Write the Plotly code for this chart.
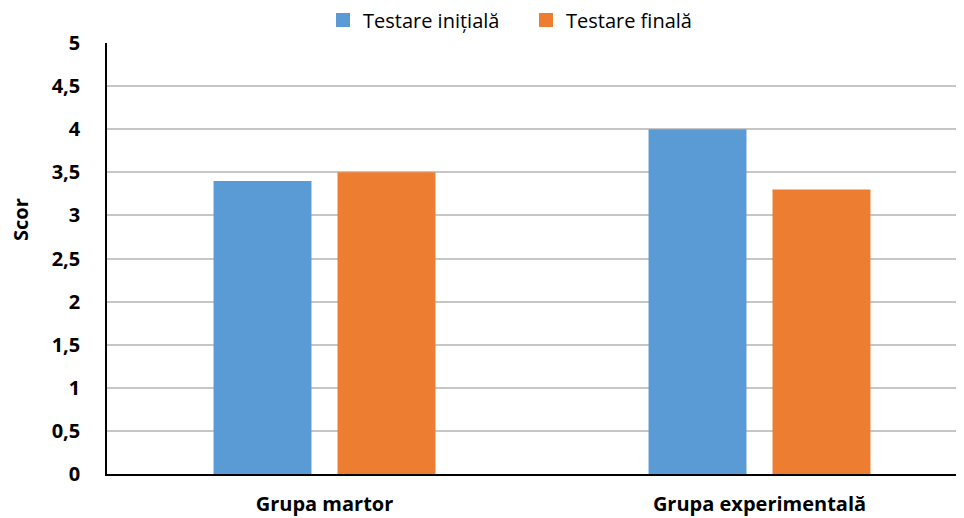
import plotly.graph_objects as go

categories = ["Grupa martor", "Grupa experimentală"]
initial = [3.4, 4.0]
final = [3.5, 3.3]
series_names = ["Testare inițială", "Testare finală"]
series_colors = ["#5B9BD5", "#ED7D31"]
y_ticks = [0, 0.5, 1, 1.5, 2, 2.5, 3, 3.5, 4, 4.5, 5]
y_tick_labels = ["0", "0,5", "1", "1,5", "2", "2,5", "3", "3,5", "4", "4,5", "5"]
y_title = "Scor"

FONT = "Open Sans"
W, H = 956, 510
L, T, B = 99, 35, 44
PW = W - L
PH = H - T - B

fig = go.Figure()
for vals, name, col in zip([initial, final], series_names, series_colors):
    fig.add_trace(go.Bar(x=categories, y=vals, name=name, showlegend=False,
                         marker=dict(color=col, line=dict(width=0))))
# legend entries with larger square swatches, each in its own legend box
for name, col, lg in zip(series_names, series_colors, ["legend", "legend2"]):
    fig.add_trace(go.Scatter(x=[None], y=[None], mode="markers", name=name, legend=lg,
                             marker=dict(symbol="square", size=14, color=col)))

fig.add_annotation(text=y_title, textangle=-90, showarrow=False,
                   xref="paper", yref="paper",
                   x=(13 - L) / PW, y=1 - (212 - T) / PH,
                   xanchor="center", yanchor="middle",
                   font=dict(size=20, family=FONT, weight="bold", color="black"))

legend_common = dict(orientation="h", xanchor="left", yanchor="middle",
                     y=1 + (T - 12) / PH, font=dict(size=20, family=FONT),
                     itemsizing="trace", itemwidth=30, bgcolor="rgba(0,0,0,0)")

fig.update_layout(
    width=W, height=H,
    margin=dict(l=L, r=0, t=T, b=B, autoexpand=False),
    paper_bgcolor="white", plot_bgcolor="white",
    barmode="group", bargap=0.43, bargroupgap=0.21,
    font=dict(family=FONT, color="black"),
    legend=dict(x=(315 - L) / PW, **legend_common),
    legend2=dict(x=(518 - L) / PW, **legend_common),
    xaxis=dict(range=[-0.5, -0.5 + PW / 435], showgrid=False, automargin=False,
               showline=True, linecolor="black", linewidth=1.5,
               ticks="outside", ticklen=11, tickcolor="white",
               tickfont=dict(size=20, family=FONT, weight="bold")),
    yaxis=dict(range=[0, 5], tickvals=y_ticks, ticktext=y_tick_labels, automargin=False,
               showgrid=True, gridcolor="#C6C6C6", gridwidth=1.5,
               showline=True, linecolor="black", linewidth=1.5,
               zeroline=False, ticklabelstandoff=21,
               tickfont=dict(size=20, family=FONT, weight="bold")),
)

fig.write_html("out.html")
